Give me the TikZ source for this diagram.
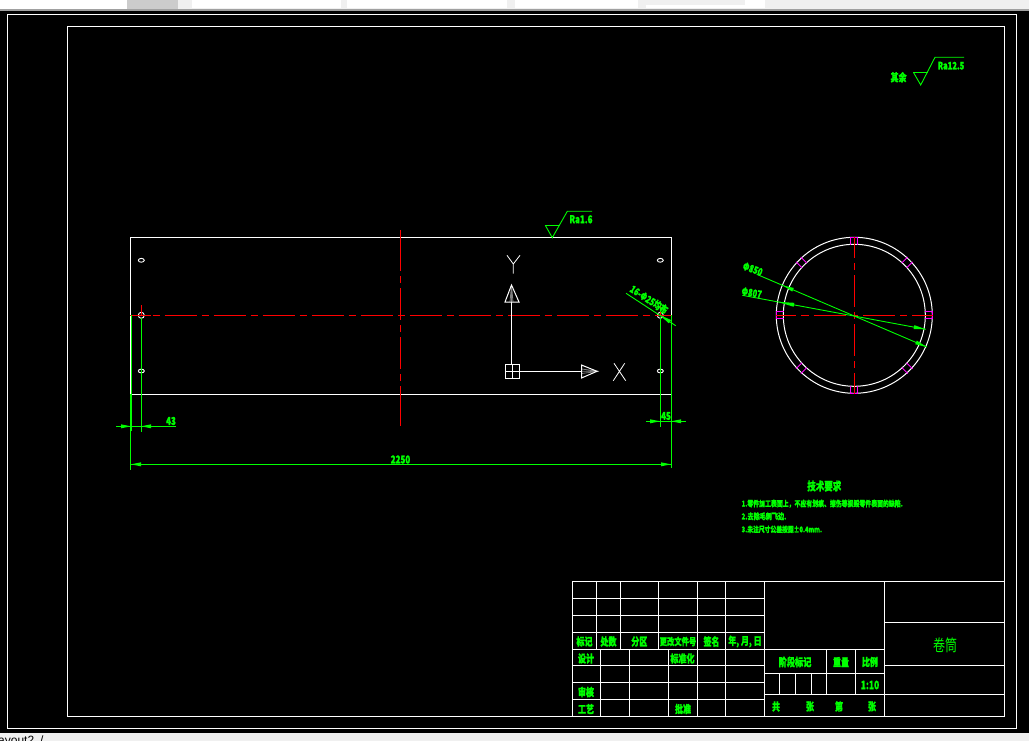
\documentclass[tikz,border=0pt]{standalone}
\usepackage{fontspec}
\usepackage{graphicx}
\setmainfont{Noto Sans CJK SC}[BoldFeatures={FakeBold=1.6}]
\newfontfamily\uifont{Liberation Sans}
\usetikzlibrary{calc}
\definecolor{cadgreen}{RGB}{0,255,0}
\definecolor{cadred}{RGB}{255,0,0}
\definecolor{cadmag}{RGB}{255,0,255}
\definecolor{uigray}{RGB}{240,240,240}
\definecolor{uiedge}{RGB}{160,160,160}
\tikzset{
  wline/.style={draw=white,line width=1pt},
  gline/.style={draw=cadgreen,line width=0.9pt},
  rline/.style={draw=cadred,line width=1.1pt},
  mline/.style={draw=cadmag,line width=0.9pt},
  lab/.style={text=cadgreen,inner sep=0pt,outer sep=0pt,anchor=center}
}
\newcounter{lb}
\newcommand{\tall}[1]{\scalebox{1}[1.35]{#1}}
\newcommand{\lbl}[4]{\stepcounter{lb}\node[lab,font=\fontsize{#3}{#3}\selectfont\bfseries] (t\arabic{lb}) at (#1,#2) {\tall{#4}};}
\newcommand{\lbll}[4]{\stepcounter{lb}\node[lab,anchor=west,font=\fontsize{#3}{#3}\selectfont\bfseries] (t\arabic{lb}) at (#1,#2) {\tall{#4}};}
\newcommand{\lblr}[5]{\stepcounter{lb}\node[lab,rotate=#4,font=\fontsize{#3}{#3}\selectfont\bfseries] (t\arabic{lb}) at (#1,#2) {\tall{#5}};}
\newcommand{\ahead}[4]{\fill[cadgreen] (#1,#2) -- ($(#3,#4)!2pt!90:(#1,#2)$) -- ($(#3,#4)!2pt!-90:(#1,#2)$) -- cycle;}
\begin{document}
\begin{tikzpicture}[x=1pt,y=-1pt]
\useasboundingbox (0,0) rectangle (1029,741);
\clip (0,0) rectangle (1029,741);
% window chrome
\fill[uigray] (0,0) rectangle (1029,741);
\fill[white] (0,0) rectangle (127,9);
\fill[uigray!85!black] (127,0) rectangle (178,9);
\fill[white] (192,0) rectangle (341,8);
\fill[white] (347,0) rectangle (507,8);
\fill[white] (515,0) rectangle (638,8);
\fill[white] (646,0) rectangle (765,8);
\fill[uigray] (646,0) rectangle (745,5);
\fill[uiedge] (0,9) rectangle (1029,11);
\fill[black] (0,11) rectangle (1029,733);
\stepcounter{lb}\node[anchor=base west,inner sep=0pt,font=\uifont\fontsize{12}{12}\selectfont,text=black] (t\arabic{lb}) at (-2,744) {ayout2};
\stepcounter{lb}\node[anchor=base west,inner sep=0pt,font=\uifont\fontsize{12}{12}\selectfont,text=black] (t\arabic{lb}) at (40,744) {/};
% frames
\draw[wline] (7.3,14.3) rectangle (1016.7,728);
\draw[wline] (67.3,26.3) rectangle (1004.3,716.3);
% title block
\draw[wline] (572.7,581.3) rectangle (1004.3,716.3);
\foreach \y in {598.3,615.3,632.3,649.3,665.7,682.3,699.3} \draw[wline] (572.7,\y) -- (764.3,\y);
\foreach \x in {596.3,620.3,658.3,697.3,725.3} \draw[wline] (\x,581.3) -- (\x,649.3);
\foreach \x in {600.3,629.3,668.3,697.3,725.3} \draw[wline] (\x,649.3) -- (\x,716.3);
\draw[wline] (764.3,581.3) -- (764.3,716.3);
\draw[wline] (884.3,581.3) -- (884.3,716.3);
\draw[wline] (764.3,649.3) -- (884.3,649.3);
\draw[wline] (764.3,673.3) -- (884.3,673.3);
\draw[wline] (764.3,694.3) -- (1004.3,694.3);
\draw[wline] (884.3,622.3) -- (1004.3,622.3);
\draw[wline] (884.3,665.7) -- (1004.3,665.7);
\foreach \x in {826.3,855.3} \draw[wline] (\x,649.3) -- (\x,694.3);
\foreach \x in {779.3,795.3,811.3} \draw[wline] (\x,673.3) -- (\x,694.3);
% title block text
\lbl{584.5}{641.5}{8}{标记}
\lbl{608.5}{641.5}{8}{处数}
\lbl{639.3}{641.5}{8}{分区}
\lbl{678}{641.5}{7.3}{更改文件号}
\lbl{711.5}{641.5}{8}{签名}
\lbl{745}{641.5}{8}{年, 月, 日}
\lbl{586}{658.5}{8}{设计}
\lbl{682.5}{658.5}{8}{标准化}
\lbl{586}{692}{8}{审核}
\lbl{586}{709}{8}{工艺}
\lbl{683}{709}{8}{批准}
\lbl{795}{662}{8.2}{阶段标记}
\lbl{841}{662}{8}{重量}
\lbl{870}{662}{8}{比例}
\lbl{870}{685}{8.5}{1:10}
\lbl{776}{706.5}{8}{共}
\lbl{810}{706.5}{8}{张}
\lbl{839}{706.5}{8}{第}
\lbl{872}{706.5}{8}{张}
\stepcounter{lb}\node[lab,font=\fontsize{12}{12}\selectfont] (t\arabic{lb}) at (945,645.5) {\tall{卷筒}};
% plate
\draw[wline] (130.3,237.3) rectangle (671.3,394.3);
\foreach \x in {141.3,660.3}{
  \draw[draw=white,line width=0.9pt] (\x,260.3) ellipse [x radius=3,y radius=1.9];
  \draw[draw=white,line width=0.9pt] (\x,371) ellipse [x radius=3,y radius=1.9];
  \draw[draw=white,line width=0.9pt] (\x,315.3) circle [radius=3];
  \draw[rline,line width=0.8pt] (\x,305) -- (\x,315.3);
}
% plate centre lines
\draw[rline,line width=0.8pt] (130.3,315.3) -- (150.7,315.3);
\draw[rline,line width=0.8pt,dash pattern=on 7.3pt off 4.7pt on 32pt off 5pt] (152.7,315.3) -- (671.3,315.3);
\draw[rline] (400.3,230) -- (400.3,270.7);
\draw[rline,dash pattern=on 6.7pt off 5.3pt on 32pt off 5pt] (400.3,276) -- (400.3,386);
\draw[rline] (400.3,386) -- (400.3,426);
% UCS icon
\draw[wline] (505.3,364.3) rectangle (519,378.3);
\draw[wline] (512.2,364.3) -- (512.2,378.3) (505.3,371.3) -- (519,371.3);
\draw[wline] (511.5,364.3) -- (511.5,302);
\draw[wline] (519,371.3) -- (581.5,371.3);
\draw[draw=gray,line width=0.8pt] (511.5,285) -- (510,302) (511.5,285) -- (513,302) (511.5,285) -- (511.5,302);
\draw[wline,line join=miter] (505,302) -- (519,302) -- (511.5,285) -- cycle;
\draw[draw=gray,line width=0.8pt] (599,371.3) -- (581.5,369) (599,371.3) -- (581.5,373.5) (599,371.3) -- (581.5,371.3);
\draw[wline] (581.5,365) -- (581.5,378) -- (597,371.3) -- cycle;
\draw[draw=white,line width=0.8pt] (507,255.3) -- (513.3,264) -- (520,255.3) (513.3,264) -- (513.3,273.7);
\draw[draw=white,line width=0.8pt] (614,363.3) -- (625.7,380.7) (624.7,363.3) -- (613.3,380.7);
% extension lines and dimensions
\draw[gline] (131.3,315.3) -- (131.3,394.3);
\draw[draw=cadgreen,line width=2pt] (131.3,394.3) -- (131.3,431);
\draw[gline] (130.5,394.3) -- (130.5,470);
\draw[gline] (141.3,318) -- (141.3,432);
\draw[gline] (660.3,318) -- (660.3,426.7);
\draw[gline] (671.3,315.3) -- (671.3,468);
\draw[gline] (116,426.3) -- (176,426.3);
\ahead{131}{426.3}{121}{426.3}
\ahead{141.3}{426.3}{151}{426.3}
\lbl{171}{421}{8}{43}
\draw[gline] (646,421.3) -- (686,421.3);
\ahead{660.3}{421.3}{650}{421.3}
\ahead{671.3}{421.3}{681}{421.3}
\lbl{666}{416}{8}{45}
\draw[gline] (130.5,464.3) -- (671.3,464.3);
\ahead{131}{464.3}{141}{464.3}
\ahead{671}{464.3}{661}{464.3}
\lbl{400.5}{459.5}{8}{2250}
% hole leader
\draw[gline] (626,293.3) -- (675.7,325.7);
\ahead{660}{315.2}{670}{321.7}
\lblr{649}{299.5}{7.5}{-33}{16-Φ25均布}
% roughness symbols
\draw[gline] (545.3,225.3) -- (559.3,225.3);
\draw[gline] (545.3,225.3) -- (552.3,237.7) -- (567.3,211.3) -- (592,211.3);
\lbl{581}{219.3}{8}{Ra1.6}
\draw[gline] (913.4,72.3) -- (928,72.3);
\draw[gline] (913.4,72.3) -- (920.7,85) -- (935,57.3) -- (964,57.3);
\lbl{951}{65.7}{7.6}{Ra12.5}
\lbl{898.6}{77.3}{8}{其余}
% ring
\draw[wline] (854.3,315.3) circle [radius=78];
\draw[wline] (854.3,315.3) circle [radius=71];
\foreach \a in {0,90,180,270}{
  \begin{scope}[shift={(854.3,315.3)},rotate=\a]
    \draw[mline] (70.7,-3.4) -- (78.3,-3.4) -- (78.3,3.4) -- (70.7,3.4);
  \end{scope}
}
\foreach \a in {45,135,225,315}{
  \begin{scope}[shift={(854.3,315.3)},rotate=\a]
    \draw[mline] (70.5,-3.4) -- (79,-3.4) (70.5,3.4) -- (79,3.4);
  \end{scope}
}
% ring centre lines
\draw[rline,line width=1pt] (776,315.3) -- (796,315.3) (801,315.3) -- (808.6,315.3) (813.6,315.3) -- (845.6,315.3) (850.8,315.3) -- (857.8,315.3) (863,315.3) -- (895,315.3) (900,315.3) -- (907,315.3) (912,315.3) -- (933,315.3);
\draw[rline] (854.3,237) -- (854.3,258) (854.3,263) -- (854.3,270) (854.3,275) -- (854.3,307) (854.3,312) -- (854.3,319) (854.3,324) -- (854.3,356) (854.3,361) -- (854.3,368) (854.3,373) -- (854.3,394);
% diameter leaders
\draw[gline] (756.7,274.3) -- (926.7,347);
\draw[gline] (742.3,295.3) -- (925.7,329.3);
\ahead{783}{285.5}{793}{289.8}
\ahead{926.7}{347}{916}{342.4}
\ahead{777.5}{301.8}{794}{304.8}
\ahead{925.7}{329.3}{914}{327.1}
\lblr{752.7}{269}{7.5}{-20}{Φ850}
\lblr{751.7}{292.7}{7.5}{-10}{Φ807}
% technical notes
\lbl{824.3}{486}{8.5}{技术要求}
\lbll{741.7}{503.7}{5.9}{1.零件加工表面上，不应有划痕、擦伤等损毁零件表面的缺陷.}
\lbll{741.7}{516.3}{6.1}{2.去除毛刺飞边.}
\lbll{741.7}{529.3}{5.8}{3.未注尺寸公差按照±0.4mm.}
\end{tikzpicture}
\end{document}
